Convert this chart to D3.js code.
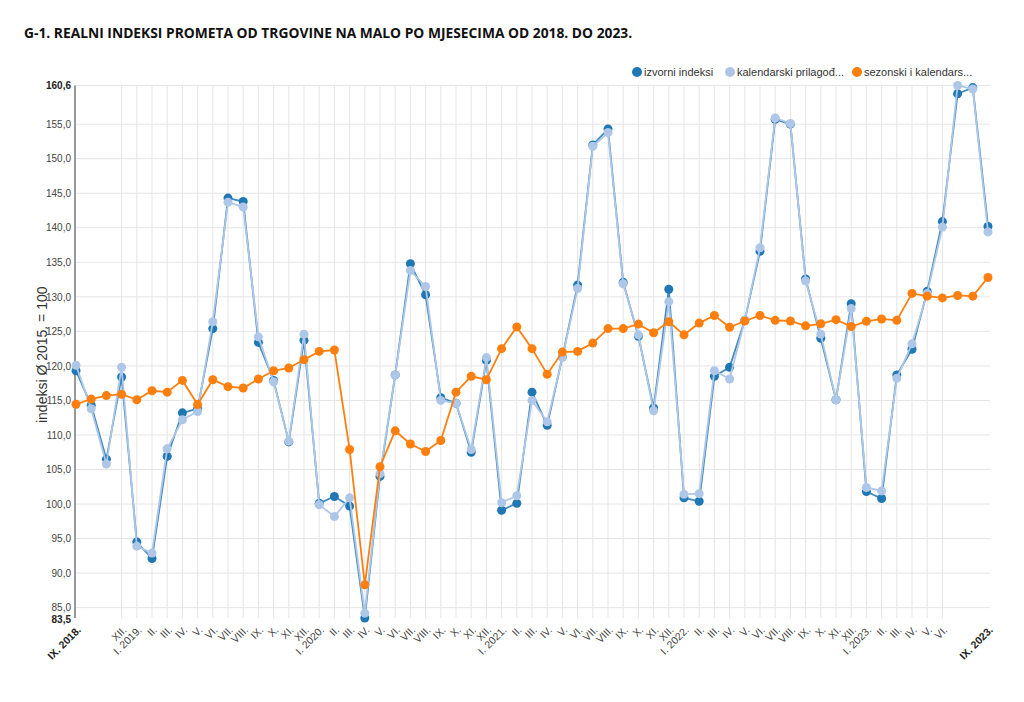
<!DOCTYPE html>
<html><head><meta charset="utf-8">
<script src="https://cdn.jsdelivr.net/npm/d3@7/dist/d3.min.js"></script>
<style>
html,body{margin:0;padding:0;background:#fff;}
svg text{font-family:"Liberation Sans",Arial,sans-serif;}
</style></head>
<body><svg id="c" width="1024" height="702"></svg>
<script>
const title = "G-1. REALNI INDEKSI PROMETA OD TRGOVINE NA MALO PO MJESECIMA OD 2018. DO 2023.";
const seriesNames = ["izvorni indeksi", "kalendarski prilagođ...", "sezonski i kalendars..."];
const seriesColors = ["#1f77b4", "#aec7e8", "#ff7f0e"];
const yTitle = "indeksi Ø 2015. = 100";
const months = ["IX. 2018.","X.","XI.","XII.",
 "I. 2019.","II.","III.","IV.","V.","VI.","VII.","VIII.","IX.","X.","XI.","XII.",
 "I. 2020.","II.","III.","IV.","V.","VI.","VII.","VIII.","IX.","X.","XI.","XII.",
 "I. 2021.","II.","III.","IV.","V.","VI.","VII.","VIII.","IX.","X.","XI.","XII.",
 "I. 2022.","II.","III.","IV.","V.","VI.","VII.","VIII.","IX.","X.","XI.","XII.",
 "I. 2023.","II.","III.","IV.","V.","VI.","VII.","VIII.","IX. 2023."];
const izvorni = [119.3,114.3,106.5,118.4,94.5,92.1,106.9,113.2,113.8,125.4,144.3,143.8,123.4,117.9,109.0,123.7,
 100.1,101.1,99.7,83.5,104.0,118.7,134.8,130.3,115.4,114.6,107.5,120.8,
 99.1,100.1,116.2,111.4,121.3,131.7,152.0,154.3,132.1,124.3,113.9,131.1,
 100.9,100.4,118.5,119.8,126.6,136.6,155.7,155.0,132.6,124.0,115.1,129.0,
 101.8,100.8,118.7,122.4,130.8,140.9,159.4,160.3,140.2];
const kalendarski = [120.1,113.8,105.8,119.8,93.9,92.9,108.0,112.2,113.4,126.4,143.7,143.0,124.2,117.7,109.1,124.6,
 99.9,98.2,100.9,84.2,104.4,118.7,133.8,131.5,115.0,114.6,107.9,121.2,
 100.2,101.2,115.0,111.9,121.2,131.2,151.8,153.8,131.9,124.5,113.5,129.3,
 101.4,101.5,119.3,118.1,126.6,137.1,155.9,155.1,132.3,124.6,115.1,128.3,
 102.4,101.9,118.2,123.2,130.5,140.1,160.6,160.1,139.4];
const sezonski = [114.45,115.2,115.7,115.9,115.1,116.4,116.2,117.9,114.4,118.0,117.0,116.8,118.1,119.3,119.7,120.9,
 122.1,122.3,107.9,88.3,105.4,110.6,108.7,107.6,109.2,116.2,118.5,118.0,
 122.5,125.65,122.5,118.8,122.0,122.1,123.3,125.4,125.4,126.05,124.8,126.4,
 124.5,126.2,127.3,125.6,126.5,127.3,126.6,126.5,125.8,126.1,126.7,125.7,
 126.45,126.8,126.6,130.5,130.1,129.85,130.2,130.1,132.8];
const yTicks = [85,90,95,100,105,110,115,120,125,130,135,140,145,150,155];
const yMin = 83.5, yMax = 160.6;
const hiddenTicks = [1,2,58,59];

const svg = d3.select("#c");
const L = 76, R = 988, T = 85.5, B = 618;
const x = d3.scaleLinear().domain([0, months.length-1]).range([L, R]);
const y = d3.scaleLinear().domain([yMin, yMax]).range([B, T]);
const fmt = v => d3.format(".1f")(v).replace(".", ",");

svg.append("text").attr("x", 24).attr("y", 38).text(title)
  .style("font-family", "'Open Sans',sans-serif").style("font-weight", "700")
  .style("font-size", "13.8px").attr("fill", "#111");

// horizontal grid
const g = svg.append("g");
g.selectAll("line.h").data(yTicks.concat([yMax])).join("line")
  .attr("x1", L).attr("x2", R+2).attr("y1", d=>y(d)).attr("y2", d=>y(d))
  .attr("stroke", "#e5e5e5").attr("stroke-width", 1);
// vertical grid
const vIdx = d3.range(3, months.length - 3);
g.selectAll("line.v").data(vIdx).join("line")
  .attr("x1", d=>x(d)).attr("x2", d=>x(d)).attr("y1", T).attr("y2", B)
  .attr("stroke", "#e5e5e5").attr("stroke-width", 1);

// y axis
const yAxis = d3.axisLeft(y).tickValues(yTicks).tickSize(0).tickPadding(4).tickFormat(fmt);
const ya = svg.append("g").attr("transform", `translate(${L-1},0)`).call(yAxis);
ya.select(".domain").attr("stroke", "#333");
ya.selectAll("text").style("font-size", "10px").attr("fill", "#444").style("font-family", "'Liberation Sans',Arial");
[yMin, yMax].forEach(v => {
  ya.append("text").attr("x", -4).attr("y", y(v)).attr("dy", v === yMin ? "0.45em" : "0.32em").attr("text-anchor", "end")
    .style("font-size", "10px").style("font-weight", "700").attr("fill", "#222").text(fmt(v));
});
ya.select(".domain").attr("d", `M0,${T}V${B}`);

svg.append("text").attr("transform", `translate(47,${(T+B)/2+3}) rotate(-90)`).attr("text-anchor", "middle")
  .style("font-size", "14px").attr("fill", "#333").text(yTitle);

// x labels
const xa = svg.append("g");
months.forEach((m, i) => {
  if (hiddenTicks.includes(i)) return;
  const bold = (i === 0 || i === months.length-1);
  xa.append("text").attr("transform", `translate(${x(i)+3},${B+10}) rotate(-45)`)
    .attr("text-anchor", "end").attr("dy", "0.35em")
    .style("font-size", "10.5px").style("font-weight", bold ? "700" : "400")
    .attr("fill", bold ? "#222" : "#444").text(m);
});

// series
const all = [izvorni, kalendarski, sezonski];
const line = d3.line().x((d,i)=>x(i)).y(d=>y(d));
all.forEach((s, k) => {
  svg.append("path").datum(s).attr("d", line).attr("fill", "none")
    .attr("stroke", seriesColors[k]).attr("stroke-width", 1.8).attr("stroke-opacity", k===0 ? 0.85 : 1);
  svg.append("g").selectAll("circle").data(s).join("circle")
    .attr("cx", (d,i)=>x(i)).attr("cy", d=>y(d)).attr("r", 4.5).attr("fill", seriesColors[k]);
});

// legend
const legX = [637, 730, 857];
seriesNames.forEach((n, k) => {
  svg.append("circle").attr("cx", legX[k]).attr("cy", 72).attr("r", 5).attr("fill", seriesColors[k]);
  svg.append("text").attr("x", legX[k]+7).attr("y", 72).attr("dy", "0.35em")
    .style("font-size", "11px").attr("fill", "#333").text(n);
});
</script></body></html>
